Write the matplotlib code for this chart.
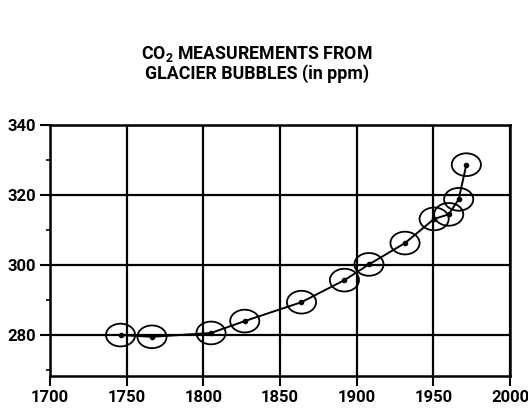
import matplotlib.pyplot as plt
from matplotlib.patches import Ellipse
from matplotlib.ticker import MultipleLocator

# data
years = [1746, 1766.5, 1805, 1827, 1864, 1892, 1908, 1931.5, 1950.5, 1960, 1966.5, 1971.5]
co2_ppm = [280.0, 279.5, 280.6, 284.0, 289.4, 295.7, 300.2, 306.3, 313.2, 314.5, 318.8, 328.7]

x_ticks = [1700, 1750, 1800, 1850, 1900, 1950, 2000]
y_ticks = [280, 300, 320, 340]

plt.rcParams['font.family'] = ['Roboto', 'DejaVu Sans']
plt.rcParams['mathtext.fontset'] = 'custom'
plt.rcParams['mathtext.bf'] = 'Roboto:bold'
plt.rcParams['mathtext.rm'] = 'Roboto'

fig = plt.figure(figsize=(5.28, 4.09), dpi=100)
ax = fig.add_axes([0.0947, 0.0807, 0.8713, 0.6133])

ax.set_xlim(1700, 2000)
ax.set_ylim(268.3, 340)
ax.set_xticks(x_ticks)
ax.set_yticks(y_ticks)
ax.yaxis.set_minor_locator(MultipleLocator(10))
ax.grid(True, color='black', linewidth=1.6)
ax.set_axisbelow(True)

for s in ax.spines.values():
    s.set_linewidth(1.8)

ax.tick_params(which='major', direction='out', length=7, width=1.5, pad=3,
               labelsize=12)
ax.tick_params(which='minor', direction='out', length=3, width=1.2)
for lab in ax.get_xticklabels() + ax.get_yticklabels():
    lab.set_fontweight('bold')

# curve through the bubble measurements
ax.plot(years, co2_ppm, color='black', linewidth=1.4, zorder=3)
ax.plot(years, co2_ppm, 'o', color='black', markersize=3, zorder=4)

# bubble outlines around each sample
for yr, v in zip(years, co2_ppm):
    ax.add_patch(Ellipse((yr, v), width=19, height=6.5, fill=False,
                         edgecolor='black', linewidth=1.3, zorder=5))

fig.text(0.486, 0.845, 'CO$_\\mathbf{2}$ MEASUREMENTS FROM\nGLACIER BUBBLES (in ppm)',
         ha='center', va='center', fontsize=12.8, fontweight='bold',
         linespacing=1.0)

fig.savefig('out.png', dpi=100)
